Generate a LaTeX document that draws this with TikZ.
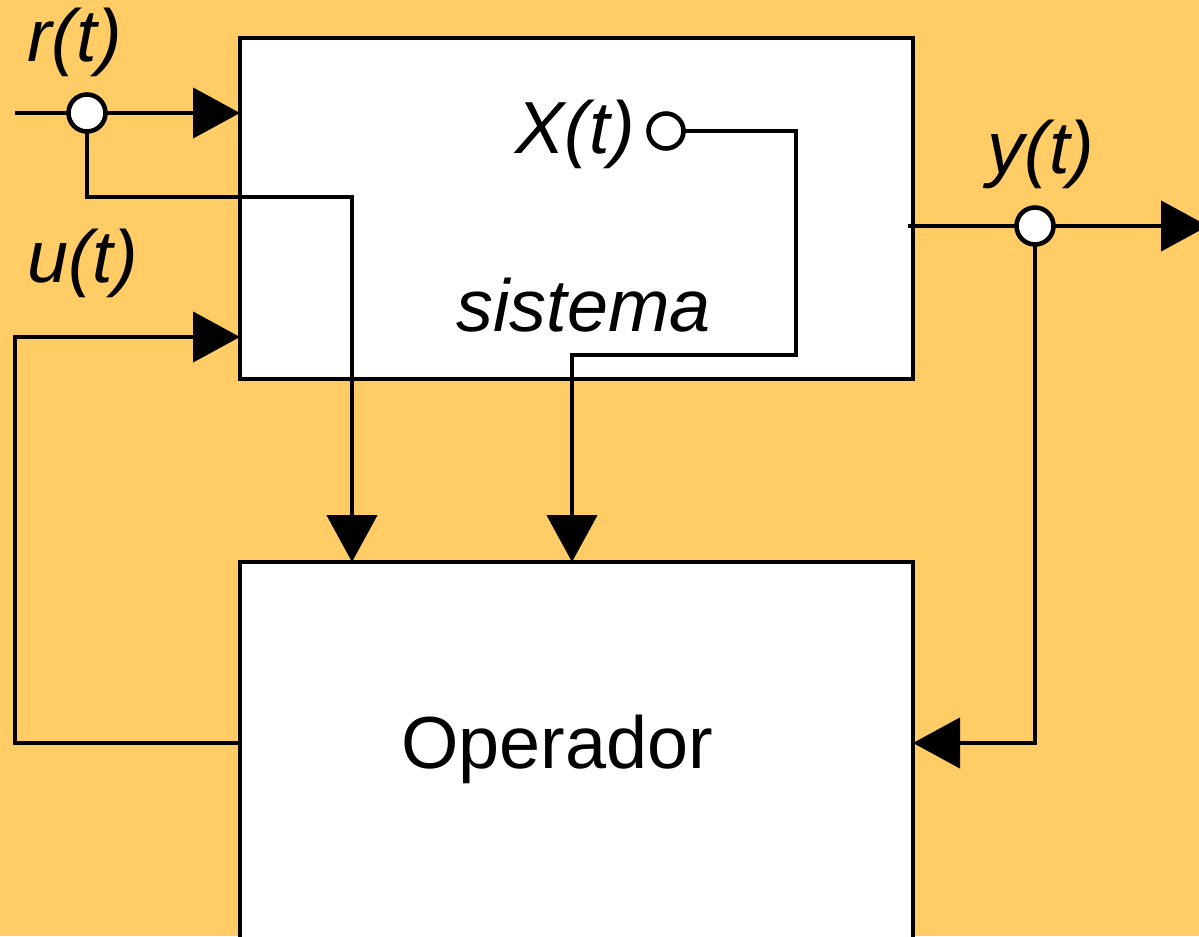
\documentclass[tikz,border=0pt]{standalone}
\usepackage{fontspec}
\setmainfont{Liberation Sans}
\usepackage{xcolor}
\usepackage{tikz}
\usetikzlibrary{calc,arrows.meta}
\definecolor{bgorange}{HTML}{FFCC66}
\newcommand{\bigfont}{\fontsize{42}{50}\selectfont}
\tikzset{
  conn/.style={draw=black, line width=2.6pt},
  flow/.style={conn, -{Triangle[length=0.94cm,width=1.0cm]}},
  blockbox/.style={rectangle, draw=black, fill=white, line width=2.6pt, inner sep=0pt, outer sep=0pt},
  tap/.style={circle, draw=black, fill=white, line width=2.6pt, inner sep=0pt, outer sep=0pt, minimum size=0.74cm},
  sig/.style={font=\bigfont\itshape, inner sep=0pt},
  lbl/.style={font=\bigfont, inner sep=0pt}
}

\begin{document}
\begin{tikzpicture}
  \fill[bgorange] (0,0) rectangle (23.98,18.72);
  \useasboundingbox (0,0) rectangle (23.98,18.72);

  % blocks
  \node[blockbox, minimum width=13.46cm, minimum height=6.82cm] (sys) at (11.53,14.55) {};
  \node[blockbox, minimum width=13.46cm, minimum height=7.78cm] (op) at (11.53,3.59) {};
  \node[sig, anchor=base west] (sysText) at (9.12,12.08) {sistema};
  \node[lbl, anchor=base] (opText) at (11.14,3.36) {Operador};

  % taps
  \node[tap] (rC) at (1.74,16.46) {};
  \node[tap, minimum size=0.70cm] (xC) at (13.32,16.10) {};
  \node[tap] (yC) at (20.70,14.20) {};

  \coordinate (rIn) at (0.30,16.46);
  \coordinate (rKnee) at (7.04,14.78);
  \coordinate (uLeft) at (0.30,11.98);
  \coordinate (fbY) at (0,3.86);
  \coordinate (xTurn) at (15.92,11.62);
  \coordinate (xDrop) at (11.44,11.62);
  \coordinate (yOut) at (24.16,14.20);

  % signals
  \draw[conn] (rIn) -- (rC.west);
  \draw[flow] (rC.east) -- (sys.west |- rC);
  \draw[flow] (rC.south) |- (rKnee) -- (rKnee |- op.north);
  \draw[flow] (op.west |- fbY) -| (uLeft) -- (sys.west |- uLeft);
  \draw[flow] (xC.east) -| (xTurn) -- (xDrop) -- (xDrop |- op.north);
  \draw[conn] ($(sys.east |- yC)+(-0.1,0)$) -- (yC.west);
  \draw[flow] (yC.east) -- (yOut);
  \draw[flow] (yC.south) |- (op.east |- fbY);

  % labels
  \node[sig, anchor=base west] (rLbl) at (0.54,17.48) {r(t)};
  \node[sig, anchor=base west] (uLbl) at (0.54,13.06) {u(t)};
  \node[sig, anchor=base east] (xLbl) at (12.70,15.64) {X(t)};
  \node[sig, anchor=base] (yLbl) at (20.82,15.24) {y(t)};
\end{tikzpicture}
\end{document}
